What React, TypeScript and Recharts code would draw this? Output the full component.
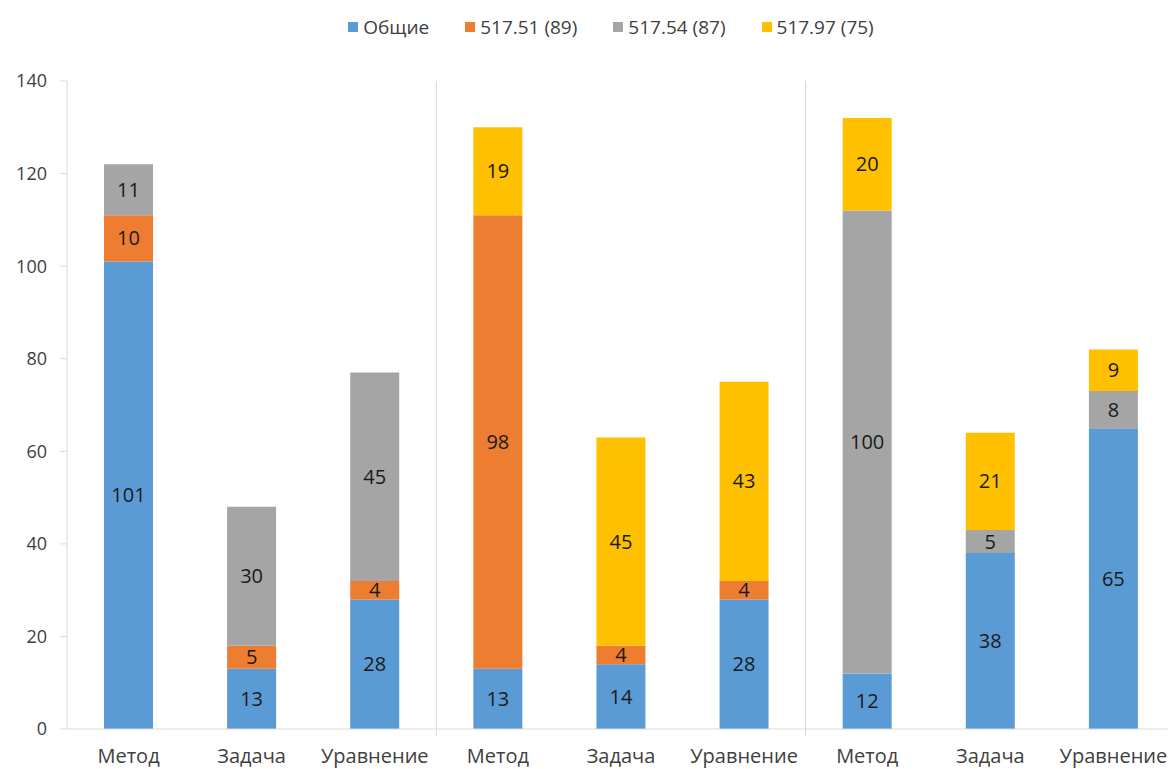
import React from 'react';
import { BarChart, Bar, XAxis, YAxis, Legend, LabelList, ReferenceLine } from 'recharts';

const categories = ['Метод', 'Задача', 'Уравнение', 'Метод', 'Задача', 'Уравнение', 'Метод', 'Задача', 'Уравнение'];
const groupSize = 3;

const obshie = [101, 13, 28, 13, 14, 28, 12, 38, 65];
const s51 = [10, 5, 4, 98, 4, 4, null, null, null];
const s54 = [11, 30, 45, null, null, null, 100, 5, 8];
const s97 = [null, null, null, 19, 45, 43, 20, 21, 9];

const yTicks = [0, 20, 40, 60, 80, 100, 120, 140];

const series = [
  { key: 'obshie', name: 'Общие', color: '#5B9BD5' },
  { key: 's51', name: '517.51 (89)', color: '#ED7D31' },
  { key: 's54', name: '517.54 (87)', color: '#A5A5A5' },
  { key: 's97', name: '517.97 (75)', color: '#FFC000' },
];

// slot = position index, so repeated category names stay separate
const data = categories.map((name, i) => ({
  slot: i,
  name,
  obshie: obshie[i],
  s51: s51[i] ?? undefined,
  s54: s54[i] ?? undefined,
  s97: s97[i] ?? undefined,
}));

const separators: number[] = [];
for (let g = groupSize; g < categories.length; g += groupSize) separators.push(g);

const font = '"Open Sans", "Noto Sans", sans-serif';

const renderLegend = () => (
  <div style={{ display: 'flex', justifyContent: 'center', gap: 36, marginLeft: 46, fontFamily: font, fontSize: 19, lineHeight: '26px', color: '#404040' }}>
    {series.map((s) => (
      <div key={s.key} style={{ display: 'flex', alignItems: 'center' }}>
        <span style={{ width: 10, height: 10, background: s.color, display: 'inline-block', marginRight: 5 }} />
        <span>{s.name}</span>
      </div>
    ))}
  </div>
);

// separator line, drawn a little past the axis like a tick
const SepLine = (props: any) => {
  const top = Math.min(props.y1, props.y2);
  const bottom = Math.max(props.y1, props.y2);
  return <line x1={props.x1} y1={top} x2={props.x2} y2={bottom + 7} stroke="#d9d9d9" strokeWidth={1} />;
};

const App: React.FC = () => {
  return (
    <div style={{ position: 'absolute', left: 0, top: 0, width: 1168, height: 769, overflow: 'hidden', background: '#fff' }}>
      <BarChart width={1176} height={769} data={data} margin={{ top: 55, right: 1, bottom: 0, left: 0 }}>
        <XAxis
          dataKey="slot"
          height={40}
          tickLine={false}
          axisLine={{ stroke: '#d9d9d9' }}
          tick={{ fontSize: 20, fill: '#404040', fontFamily: font }}
          tickFormatter={(i: number) => categories[i]}
          tickMargin={14}
          interval={0}
        />
        <YAxis
          width={67}
          domain={[0, 140]}
          ticks={yTicks}
          axisLine={{ stroke: '#d9d9d9' }}
          tickLine={{ stroke: '#d9d9d9' }}
          tickSize={7}
          tickMargin={13}
          tick={{ fontSize: 18, fill: '#404040', fontFamily: font }}
        />
        <Legend layout="vertical" align="center" verticalAlign="top" content={renderLegend} wrapperStyle={{ top: 14, left: 0, width: 1176 }} />
        {separators.map((x) => (
          <ReferenceLine key={x} x={x} position="start" shape={SepLine} ifOverflow="visible" />
        ))}
        {series.map((s) => (
          <Bar key={s.key} dataKey={s.key} name={s.name} stackId="a" fill={s.color} barSize={49} isAnimationActive={false}>
            <LabelList dataKey={s.key} position="center" style={{ fontSize: 20, fill: '#1a1a1a', fontFamily: font }} />
          </Bar>
        ))}
      </BarChart>
    </div>
  );
};

export default App;
